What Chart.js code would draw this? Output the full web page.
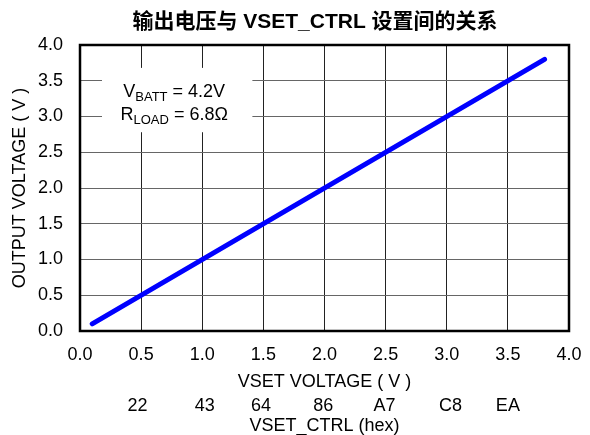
<!DOCTYPE html>
<html>
<head>
<meta charset="utf-8">
<script src="https://cdn.jsdelivr.net/npm/chart.js@4.4.1/dist/chart.umd.min.js"></script>
<style>
  html,body{margin:0;padding:0;background:#fff;}
  #wrap{width:590px;height:435px;}
</style>
</head>
<body>
<div id="wrap"><canvas id="c" width="590" height="435"></canvas></div>
<script>
// data
const titleText = "输出电压与 VSET_CTRL 设置间的关系";
const vsetVoltage = [0.1, 3.8];
const outputVoltage = [0.1, 3.8];
const voltTicks = [0, 0.5, 1, 1.5, 2, 2.5, 3, 3.5, 4];
const hexLabels = ["22", "43", "64", "86", "A7", "C8", "EA"];
const hexPos = [0.47, 1.02, 1.48, 1.99, 2.49, 3.03, 3.5];

const FONT = "'Liberation Sans', Arial, 'Noto Sans CJK SC', sans-serif";

// title, white note box and frame round the plot
const notePlugin = {
  id: "note",
  beforeDatasetsDraw(chart){
    const {ctx, scales:{x,y}} = chart;
    const l=x.getPixelForValue(0.18), r=x.getPixelForValue(1.41);
    const t=y.getPixelForValue(3.68), b=y.getPixelForValue(2.78);
    ctx.save();
    ctx.fillStyle="#fff"; ctx.fillRect(l,t,r-l,b-t);
    ctx.fillStyle="#000"; ctx.textBaseline="alphabetic"; ctx.textAlign="left";
    const cx=(l+r)/2-3;
    const lines=[["V","BATT"," = 4.2V"],["R","LOAD"," = 6.8\u03A9"]];
    lines.forEach((p,i)=>{
      const base = t + 29 + i*23;
      ctx.font="18px "+FONT; const w1=ctx.measureText(p[0]).width, w3=ctx.measureText(p[2]).width;
      ctx.font="13px "+FONT; const w2=ctx.measureText(p[1]).width;
      let xx = cx-(w1+w2+w3)/2;
      ctx.font="18px "+FONT; ctx.fillText(p[0],xx,base); xx+=w1;
      ctx.font="13px "+FONT; ctx.fillText(p[1],xx,base+4); xx+=w2;
      ctx.font="18px "+FONT; ctx.fillText(p[2],xx,base);
    });
    ctx.restore();
  },
  afterDatasetsDraw(chart){
    const {ctx, chartArea:a} = chart;
    ctx.save(); ctx.strokeStyle="#000"; ctx.lineWidth=2.5;
    ctx.strokeRect(a.left,a.top,a.right-a.left,a.bottom-a.top);
    ctx.font="bold 21px "+FONT; ctx.fillStyle="#000";
    ctx.textAlign="center"; ctx.textBaseline="middle";
    ctx.fillText(titleText, 315, 22);
    ctx.restore();
  }
};

new Chart(document.getElementById("c"), {
  type: "line",
  data: { datasets: [{
    data: vsetVoltage.map((v,i)=>({x:v, y:outputVoltage[i]})),
    borderColor: "#0000ff", borderWidth: 5, borderCapStyle: "round",
    pointRadius: 0, tension: 0
  }]},
  options: {
    responsive: false, animation: false,
    layout: { padding: { left: 0, right: 21, top: 45, bottom: 0 } },
    plugins: { legend: { display: false }, tooltip: { enabled: false } },
    scales: {
      x: {
        type: "linear", position: "bottom", min: 0, max: 4,
        afterBuildTicks: s => { s.ticks = voltTicks.map(v=>({value:v})); },
        afterFit: s => { s.height = 62; s.paddingRight = 0; s.paddingLeft = 0; },
        grid: { color: "#222", lineWidth: 1, drawTicks: false },
        border: { display: false },
        ticks: { color: "#000", padding: 13, maxRotation: 0, font: { family: FONT, size: 18 }, callback: v => v.toFixed(1) },
        title: { display: true, text: "VSET VOLTAGE ( V )", color: "#000", font: { family: FONT, size: 18 }, padding: { top: 0, bottom: 0 } }
      },
      x2: {
        type: "linear", position: "bottom", min: 0, max: 4,
        afterBuildTicks: s => { s.ticks = hexPos.map(v=>({value:v})); },
        afterFit: s => { s.height = 42; s.paddingRight = 0; s.paddingLeft = 0; },
        grid: { display: false, drawTicks: false },
        border: { display: false },
        ticks: { color: "#000", padding: 2, autoSkip: false, maxRotation: 0, font: { family: FONT, size: 18 },
          callback: (v, i) => hexLabels[i] },
        title: { display: true, text: "VSET_CTRL (hex)", color: "#000", font: { family: FONT, size: 18, lineHeight: 1 }, padding: { top: 0, bottom: 0 } }
      },
      y: {
        type: "linear", min: 0, max: 4,
        afterBuildTicks: s => { s.ticks = voltTicks.map(v=>({value:v})); },
        afterFit: s => { s.width = 80; s.paddingTop = 0; s.paddingBottom = 0; },
        grid: { color: "#666", lineWidth: 1, drawTicks: false },
        border: { display: false },
        ticks: { color: "#000", padding: 17, font: { family: FONT, size: 18 }, callback: v => v.toFixed(1) },
        title: { display: true, text: "OUTPUT VOLTAGE ( V )", color: "#000", font: { family: FONT, size: 18 }, padding: { top: 9, bottom: 0 } }
      }
    }
  },
  plugins: [notePlugin]
});
</script>
</body>
</html>
